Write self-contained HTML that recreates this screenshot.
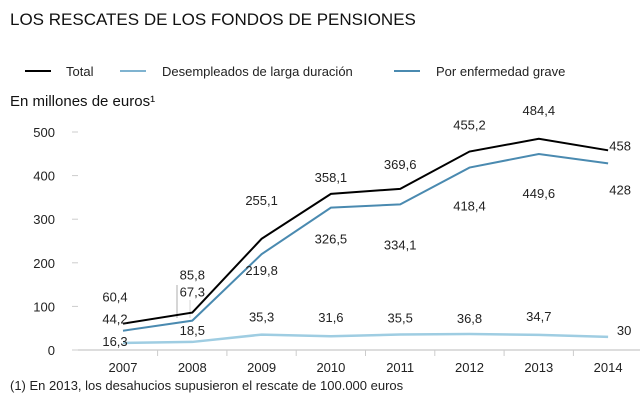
<!DOCTYPE html>
<html><head><meta charset="utf-8"><style>
body{margin:0;background:#fff;font-family:"Liberation Sans",sans-serif;}
svg text{font-family:"Liberation Sans",sans-serif;}
</style></head><body>
<svg width="640" height="404" viewBox="0 0 640 404">
<text x="10" y="25" font-size="17" fill="#111">LOS RESCATES DE LOS FONDOS DE PENSIONES</text>
<g>
<line x1="25" y1="71" x2="51" y2="71" stroke="#000" stroke-width="2"/>
<text x="66" y="76" font-size="13" fill="#222">Total</text>
<line x1="120" y1="71" x2="146" y2="71" stroke="#7fb3d0" stroke-width="2"/>
<text x="162" y="76" font-size="13" fill="#222">Desempleados de larga duración</text>
<line x1="394" y1="71" x2="420" y2="71" stroke="#4a8ab0" stroke-width="2"/>
<text x="436" y="76" font-size="13" fill="#222">Por enfermedad grave</text>
</g>
<text x="10" y="106" font-size="15" fill="#111">En millones de euros¹</text>
<line x1="177" y1="285" x2="177" y2="318" stroke="#999" stroke-width="0.8"/>
<line x1="190" y1="300" x2="190" y2="318" stroke="#ccc" stroke-width="0.8"/>
<g id="plot"></g>
<text x="10" y="390" font-size="13" fill="#222">(1) En 2013, los desahucios supusieron el rescate de 100.000 euros</text>
</svg>
<script>
const years=["2007","2008","2009","2010","2011","2012","2013","2014"];
const total=[60.4,85.8,255.1,358.1,369.6,455.2,484.4,458];
const enfermedad=[44.2,67.3,219.8,326.5,334.1,418.4,449.6,428];
const desempleados=[16.3,18.5,35.3,31.6,35.5,36.8,34.7,30];
const totalLabels=["60,4","85,8","255,1","358,1","369,6","455,2","484,4","458"];
const enfLabels=["44,2","67,3","219,8","326,5","334,1","418,4","449,6","428"];
const desLabels=["16,3","18,5","35,3","31,6","35,5","36,8","34,7","30"];
const yTicks=[0,100,200,300,400,500];
const NS="http://www.w3.org/2000/svg";
const g=document.getElementById('plot');
function x(i){return 123+i*69.3;}
function y(v){return 350-0.436*v;}
function mk(t,a){const e=document.createElementNS(NS,t);for(const k in a)e.setAttribute(k,a[k]);g.appendChild(e);return e;}
let ax=mk('line',{x1:72,y1:350,x2:640,y2:350,stroke:'#bbb'});


yTicks.forEach(v=>{
 const t=mk('text',{x:55,y:y(v)+5,'font-size':13,fill:'#222','text-anchor':'end'});t.textContent=v;
 
 
 const tk=mk('line',{x1:72,y1:y(v),x2:78,y2:y(v),stroke:'#ccc'});
 
 
});
years.forEach((yr,i)=>{
 const t=mk('text',{x:x(i),y:372,'font-size':13,fill:'#222','text-anchor':'middle'});t.textContent=yr;
 
 
 const tk=mk('line',{x1:x(i)+34.6,y1:350,x2:x(i)+34.6,y2:356,stroke:'#ccc'});
 
 
});
function line(vals,col,w,name){
 const p=mk('polyline',{points:vals.map((v,i)=>x(i)+','+y(v)).join(' '),fill:'none',stroke:col,'stroke-width':w});
 
 
}
line(desempleados,'#9fcde2',2.5,'desempleados-line');
line(enfermedad,'#4a8ab0',2,'enfermedad-line');
line(total,'#000',2,'total-line');
const tDy=[-27,-38,-39,-17,-25,-27,-29,-5];
const eDy=[-12,-29,16,31,40,38,39,26];
const dDy=[-2,-12,-18,-19,-17,-16,-19,-7];
const dx=[-8,0,0,0,0,0,0,12];
function labels(vals,labs,dy,name,extra){
 vals.forEach((v,i)=>{
  const t=mk('text',{x:x(i)+dx[i]+(i===7?extra:0),y:y(v)+dy[i]+5,'font-size':13,fill:'#222','text-anchor':'middle'});
  t.textContent=labs[i];
  
  
 });
}
labels(total,totalLabels,tDy,'total-value-label',0);
labels(enfermedad,enfLabels,eDy,'enfermedad-value-label',0);
labels(desempleados,desLabels,dDy,'desempleados-value-label',4);
</script>
</body></html>
